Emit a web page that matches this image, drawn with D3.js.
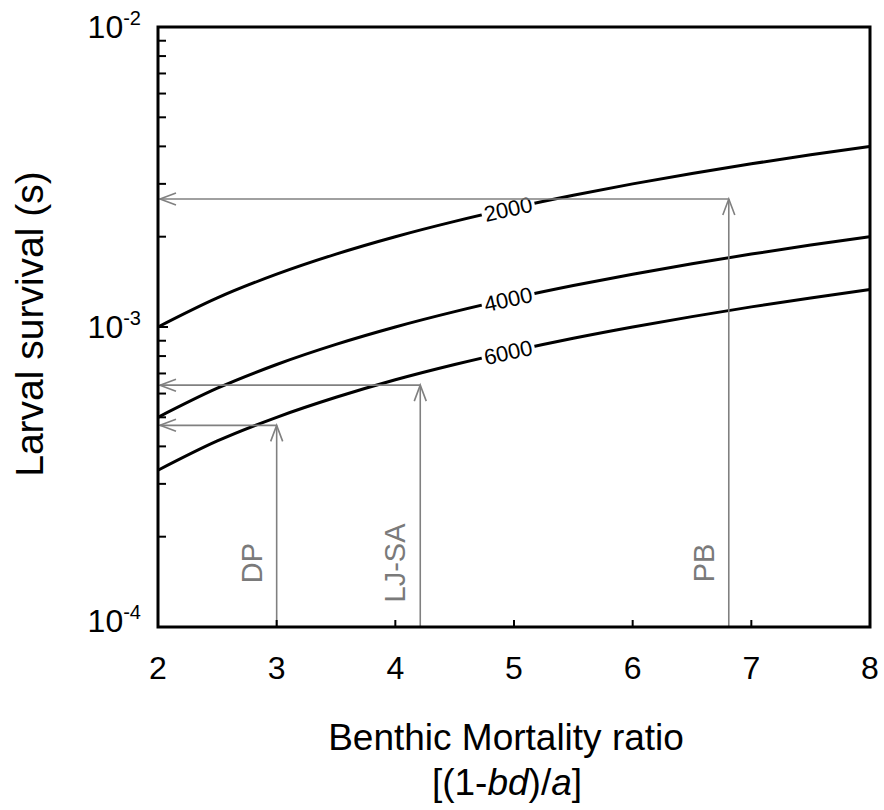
<!DOCTYPE html>
<html><head><meta charset="utf-8">
<script src="https://cdn.jsdelivr.net/npm/d3@7"></script>
<style>body{margin:0;background:#fff}text{font-family:"Liberation Sans",Arial,sans-serif}</style>
</head><body><svg id="c" width="884" height="810"></svg>
<script>
// Data
const xTicks = [2,3,4,5,6,7,8];
const yMajor = [1e-4,1e-3,1e-2];
const yMajorExp = ["-4","-3","-2"];
const curveX = [2,2.5,3,3.5,4,4.5,5,5.5,6,6.5,7,7.5,8];
const s2000 = [0.00100,0.00125,0.00150,0.00175,0.00200,0.00225,0.00250,0.00275,0.00300,0.00325,0.00350,0.00375,0.00400];
const s4000 = [0.000500,0.000625,0.000750,0.000875,0.00100,0.001125,0.00125,0.001375,0.00150,0.001625,0.00175,0.001875,0.00200];
const s6000 = [0.000333,0.000417,0.000500,0.000583,0.000667,0.000750,0.000833,0.000917,0.00100,0.001083,0.001167,0.00125,0.001333];
const curveNames = ["2000","4000","6000"];
const labelX = [4.95,4.95,4.95];
const sites = ["DP","LJ-SA","PB"];
const siteX = [3.0,4.21,6.81];
const siteS = [0.00047,0.00064,0.00267];

const svg = d3.select("#c");
const L=158,R=870,T=27,B=627;
const x = d3.scaleLinear().domain([2,8]).range([L,R]);
const y = d3.scaleLog().domain([1e-4,1e-2]).range([B,T]);

const defs = svg.append("defs");
const mask = defs.append("mask").attr("id","m");
mask.append("rect").attr("x",0).attr("y",0).attr("width",884).attr("height",810).attr("fill","#fff");

const series=[s2000,s4000,s6000];
const line = d3.line().x(d=>x(d[0])).y(d=>y(d[1])).curve(d3.curveMonotoneX);
const g = svg.append("g");
series.forEach((s,i)=>{
  const pts = curveX.map((v,j)=>[v,s[j]]);
  const interp = d3.scaleLinear().domain(curveX).range(s);
  const lx = labelX[i];
  const px=x(lx), py=y(interp(lx));
  const dx=0.25;
  const p1=[x(lx-dx),y(interp(lx-dx))], p2=[x(lx+dx),y(interp(lx+dx))];
  const ang = Math.atan2(p2[1]-p1[1],p2[0]-p1[0])*180/Math.PI;
  mask.append("rect").attr("x",-27).attr("y",-10).attr("width",54).attr("height",20).attr("fill","#000")
    .attr("transform",`translate(${px},${py}) rotate(${ang})`);
  g.append("path").datum(pts).attr("d",line).attr("fill","none").attr("stroke","#000").attr("stroke-width",3).attr("mask","url(#m)");
  g.append("text").attr("transform",`translate(${px},${py}) rotate(${ang})`).attr("text-anchor","middle")
    .attr("dy","0.36em").attr("font-size",22).text(curveNames[i]);
});

// arrows
const ag = svg.append("g").attr("stroke","#808080").attr("stroke-width",1.6).attr("fill","none");
sites.forEach((nm,i)=>{
  const sx=x(siteX[i]), sy=y(siteS[i]);
  ag.append("line").attr("x1",sx).attr("y1",B).attr("x2",sx).attr("y2",sy);
  ag.append("path").attr("d",`M${sx-6},${sy+16}L${sx},${sy}L${sx+6},${sy+16}`);
  ag.append("line").attr("x1",sx).attr("y1",sy).attr("x2",L+2).attr("y2",sy);
  ag.append("path").attr("d",`M${L+18},${sy-6}L${L+2},${sy}L${L+18},${sy+6}`);
  svg.append("text").attr("transform",`translate(${sx-15},${563}) rotate(-90)`).attr("text-anchor","middle")
    .attr("font-size",29).attr("fill","#7a7a7a").text(nm);
});

// axis box
svg.append("rect").attr("x",L).attr("y",T).attr("width",R-L).attr("height",B-T).attr("fill","none").attr("stroke","#000").attr("stroke-width",3);

// x ticks inside
xTicks.forEach(t=>{
  svg.append("line").attr("x1",x(t)).attr("x2",x(t)).attr("y1",B).attr("y2",B-7).attr("stroke","#000").attr("stroke-width",2);
  svg.append("text").attr("x",x(t)).attr("y",679).attr("text-anchor","middle").attr("font-size",32).text(t);
});
// y ticks
const minors=[];
[1e-4,1e-3].forEach(d=>{for(let k=2;k<=9;k++)minors.push(d*k);});
minors.forEach(v=>{
  svg.append("line").attr("x1",L).attr("x2",L+8).attr("y1",y(v)).attr("y2",y(v)).attr("stroke","#000").attr("stroke-width",2);
});
yMajor.forEach((v,i)=>{
  svg.append("line").attr("x1",L).attr("x2",L+10).attr("y1",y(v)).attr("y2",y(v)).attr("stroke","#000").attr("stroke-width",2);
  const t = svg.append("text").attr("x",141).attr("y",y(v)+(i===0?5:11)).attr("text-anchor","end").attr("font-size",32);
  t.append("tspan").text("10");
  t.append("tspan").attr("font-size",20).attr("dy",-13).text(yMajorExp[i]);
});

// axis titles
svg.append("text").attr("transform","translate(43,324) rotate(-90)").attr("text-anchor","middle").attr("font-size",39).text("Larval survival (s)");
svg.append("text").attr("x",506).attr("y",750).attr("text-anchor","middle").attr("font-size",37).text("Benthic Mortality ratio");
const t2 = svg.append("text").attr("x",507).attr("y",795).attr("text-anchor","middle").attr("font-size",37);
t2.append("tspan").text("[(1-");
t2.append("tspan").attr("font-style","italic").text("bd");
t2.append("tspan").text(")/");
t2.append("tspan").attr("font-style","italic").text("a");
t2.append("tspan").text("]");
</script></body></html>
